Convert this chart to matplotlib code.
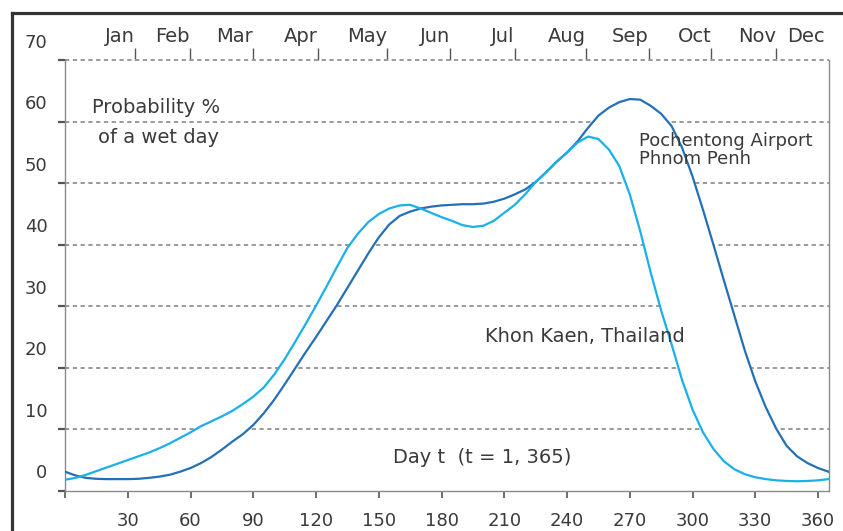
import matplotlib
matplotlib.use("Agg")
import matplotlib.pyplot as plt
from matplotlib.lines import Line2D
from matplotlib.transforms import blended_transform_factory

# Day of year (t = 1, 365), sampled every 5 days
days = list(range(0, 366, 5))

# Probability % of a wet day - Pochentong Airport, Phnom Penh
phnom_penh = [3.1, 2.5, 2.1, 1.95, 1.9, 1.9, 1.9, 1.95, 2.1, 2.3,
              2.6, 3.1, 3.7, 4.5, 5.5, 6.7, 8.0, 9.2, 10.7, 12.6,
              14.8, 17.3, 19.9, 22.5, 25.0, 27.6, 30.2, 33.0, 35.8, 38.6,
              41.2, 43.3, 44.7, 45.4, 45.9, 46.2, 46.4, 46.5, 46.6, 46.6,
              46.7, 47.0, 47.5, 48.2, 49.0, 50.2, 51.8, 53.5, 55.0, 56.8,
              59.0, 61.0, 62.3, 63.2, 63.7, 63.6, 62.6, 61.3, 59.3, 55.8,
              51.1, 45.7, 40.0, 34.2, 28.5, 22.8, 17.8, 13.6, 10.1, 7.3,
              5.6, 4.5, 3.7, 3.1]

# Probability % of a wet day - Khon Kaen, Thailand
khon_kaen = [1.8, 2.1, 2.6, 3.2, 3.8, 4.4, 5.0, 5.6, 6.2, 6.9,
             7.7, 8.6, 9.5, 10.5, 11.3, 12.1, 13.0, 14.1, 15.3, 16.8,
             18.9, 21.4, 24.2, 27.1, 30.1, 33.2, 36.4, 39.5, 41.8, 43.7,
             45.0, 45.9, 46.4, 46.5, 45.9, 45.2, 44.5, 43.9, 43.2, 42.9,
             43.1, 43.9, 45.2, 46.5, 48.2, 50.2, 51.8, 53.5, 55.0, 56.6,
             57.6, 57.2, 55.5, 52.8, 48.2, 42.2, 35.5, 29.3, 23.8, 18.0,
             13.2, 9.5, 6.8, 4.8, 3.5, 2.7, 2.2, 1.9, 1.7, 1.6,
             1.55, 1.6, 1.7, 1.9]

y_levels = [0, 10, 20, 30, 40, 50, 60, 70]
x_ticks = [0, 30, 60, 90, 120, 150, 180, 210, 240, 270, 300, 330, 360]
months = ['Jan', 'Feb', 'Mar', 'Apr', 'May', 'Jun', 'Jul', 'Aug', 'Sep', 'Oct', 'Nov', 'Dec']
month_ticks = [33.5, 59.7, 90, 121, 154, 184, 215, 249, 279, 309, 340]
month_label_pos = month_ticks + [363.3]

text_col = '#3a3a3a'
light_blue = '#1ab0ea'
dark_blue = '#2470b6'

fig = plt.figure(figsize=(8.43, 5.31), dpi=100)
ax = fig.add_axes([65 / 843, 40.2 / 531, 763.5 / 843, 430.5 / 531])
ax.set_xlim(0, 365)
ax.set_ylim(0, 70)

# dashed horizontal grid
for v in y_levels[1:]:
    ax.axhline(v, color='#9a9a9a', lw=1.4, linestyle=(0, (2.2, 1.8)), zorder=1, clip_on=False)

# white band between the two curves hides the grid there
ax.fill_between(days, phnom_penh, khon_kaen, color='white', lw=0, zorder=2)

ax.plot(days, phnom_penh, color=dark_blue, lw=1.6, zorder=3)
ax.plot(days, khon_kaen, color=light_blue, lw=1.6, zorder=4)

# spines
ax.spines['top'].set_visible(False)
for s in ['left', 'bottom', 'right']:
    ax.spines[s].set_color('#8a8a8a')
    ax.spines[s].set_linewidth(1.0)

# y ticks: labels sit above the tick line
ax.set_yticks(y_levels)
ax.set_yticklabels([''] * len(y_levels))
ax.tick_params(axis='y', direction='out', length=5, width=1.6, color='#555555')
trans = blended_transform_factory(ax.transAxes, ax.transData)
for v in y_levels:
    ax.text(-0.023, v + 2.85, str(v), transform=trans, ha='right', va='center',
            fontsize=13, color=text_col)

# bottom day ticks
ax.set_xticks(x_ticks)
ax.set_xticklabels([''] + [str(t) for t in x_ticks[1:]], fontsize=13, color=text_col)
ax.tick_params(axis='x', direction='out', length=5, width=1.2, color='#555555', pad=10)

# month ticks on top
secax = ax.secondary_xaxis('top')
secax.set_xticks(month_ticks)
secax.set_xticklabels([''] * len(month_ticks))
secax.tick_params(axis='x', direction='out', length=9, width=1.0, color='#555555')
secax.spines['top'].set_visible(False)
for name, pos in zip(months, month_label_pos):
    ax.text(pos, 73.0, name, ha='right', va='baseline', fontsize=14, color=text_col, clip_on=False)

# annotations
ax.text(12.8, 61.4, 'Probability %', fontsize=14, color=text_col, va='baseline')
ax.text(15.9, 56.6, 'of a wet day', fontsize=14, color=text_col, va='baseline')
ax.text(274.4, 56.1, 'Pochentong Airport', fontsize=13, color=text_col, va='baseline', zorder=5)
ax.text(274.4, 53.2, 'Phnom Penh', fontsize=13, color=text_col, va='baseline', zorder=5)
ax.text(200.8, 24.2, 'Khon Kaen, Thailand', fontsize=14, color=text_col, va='baseline', zorder=5)
ax.text(156.8, 4.6, 'Day t  (t = 1, 365)', fontsize=14, color=text_col, va='baseline', zorder=5)

# outer frame (left and top edges)
fx = 12 / 843
fy = 1 - 13 / 531
fig.add_artist(Line2D([fx, fx], [0, fy], transform=fig.transFigure, color='#333333', lw=2.3))
fig.add_artist(Line2D([fx, 1], [fy, fy], transform=fig.transFigure, color='#333333', lw=2.3))

plt.savefig('out.png', dpi=100)
plt.close()
